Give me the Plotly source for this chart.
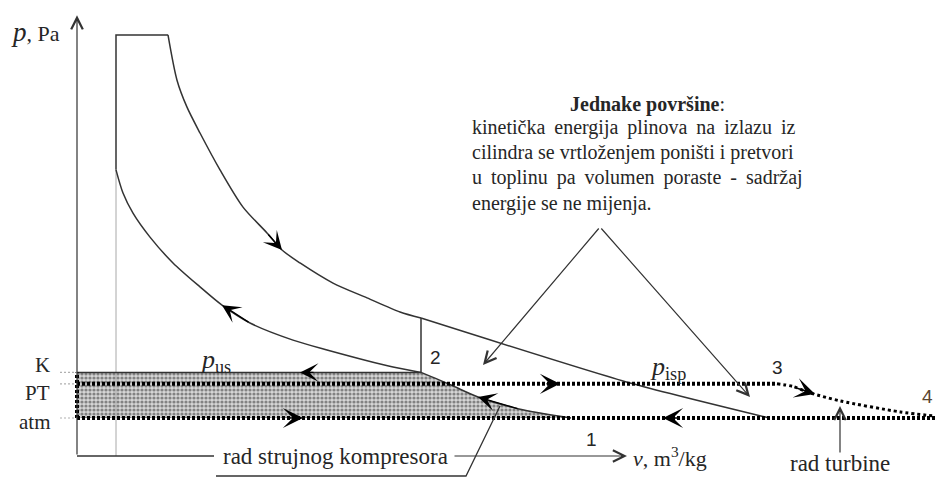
import plotly.graph_objects as go

# ---------------- data (diagram units: v arbitrary, p with atm = 1) ----------------
p_atm = 1.0          # atmospheric pressure
p_K = 2.2            # charging pressure (p_us, "K")
p_PT = 1.9           # pressure before turbine (p_isp, "PT")
p_max = 11.08        # combustion pressure
v_c = 0.975          # clearance volume
v_comb = 2.275       # end of constant-pressure combustion
v_2 = 8.6            # point 2
v_3 = 17.5           # point 3
v_end = 21.45        # right edge of the diagram

expansion_v = [2.275, 2.5, 2.75, 3.075, 3.575, 4.15, 4.75, 5.125, 5.575, 6.4, 7.25, 8.075, 8.6]
expansion_p = [11.08, 9.89, 9.18, 8.5, 7.53, 6.55, 5.87, 5.42, 5.08, 4.55, 4.16, 3.79, 3.63]

blowdown_v = [8.6, 13.825, 17.3]
blowdown_p = [3.63, 1.92, 1.0]

compression_v = [0.975, 1.15, 1.4, 1.825, 2.4, 3.075, 3.625, 4.325, 5.4, 6.25, 7.9, 8.6]
compression_p = [7.53, 6.92, 6.39, 5.76, 5.08, 4.45, 3.97, 3.5, 3.05, 2.79, 2.34, 2.2]

compressor_v = [8.6, 9.35, 10.025, 11.05, 12.35]      # line 2 - 1 (compressor work)
compressor_p = [2.2, 1.868, 1.553, 1.237, 1.0]

turbine_v = [17.5, 17.9, 18.33, 19.08, 20.58, 21.45]  # line 3 - 4 (turbine)
turbine_p = [1.9, 1.83, 1.66, 1.45, 1.16, 1.05]

# flow-direction arrowheads: head point and a point just behind it
flow_head_v = [5.125, 3.625, 5.575, 12.075, 5.65, 14.65, 10.025, 18.45]
flow_head_p = [5.42, 3.97, 2.2, 1.9, 1.0, 1.0, 1.553, 1.63]
flow_tail_v = [4.75, 4.325, 5.95, 11.7, 5.25, 15.05, 11.05, 17.95]
flow_tail_p = [5.87, 3.5, 2.2, 1.9, 1.0, 1.0, 1.237, 1.8]
flow_heavy = [False, False, False, True, True, True, False, True]

# pointer arrows (tail -> head)
ptr_tail_v = [0.0, 9.4, 13.075, 13.075, 19.075]
ptr_tail_p = [0.0, 0.0, 6.026, 6.026, 0.05]
ptr_head_v = [0.0, 13.75, 10.15, 16.825, 19.075]
ptr_head_p = [11.6, 0.0, 2.395, 1.553, 1.316]

xaxis_left_v = [0.0, 3.425]
leader_v = [3.475, 9.725, 10.575]
leader_p = [-0.526, -0.526, 1.316]
tick_v = [-0.425, 0.0]

# texts
para_lines = [
    "kinetička \u2009energija \u2009plinova \u2009na \u2009izlazu \u2009iz",
    "cilindra se vrtloženjem poništi i pretvori",
    "u \u2009toplinu \u2009pa \u2009volumen \u2009poraste \u2009- \u2009sadržaj",
    "energije se ne mijenja.",
]
para_p = [8.632, 7.974, 7.316, 6.658]
para_v = 9.825
title_v, title_p = 12.275, 9.263

SERIF = "Liberation Serif"
SANS = "Liberation Sans"
INK = "#262626"
LINE = "#333333"

fig = go.Figure()


def add_line(v, p, **kw):
    fig.add_trace(go.Scatter(x=v, y=p, mode="lines", hoverinfo="skip", showlegend=False, **kw))


# shaded area (compressor work)
fig.add_trace(go.Scatter(
    x=[0.0] + compressor_v + [0.0], y=[p_K] + compressor_p + [p_atm],
    mode="lines", fill="toself", line=dict(width=0), fillcolor="rgba(0,0,0,0)",
    fillpattern=dict(shape=".", fgcolor="#2e2e2e", bgcolor="#d6d6d6", size=4, solidity=0.5),
    hoverinfo="skip", showlegend=False))

solid = dict(color=LINE, width=1.5)
thin_gray = dict(color="#a8a8a8", width=1)
dotted = dict(color="black", width=4, dash="3px,2px")
gray_dotted = dict(color="#b0b0b0", width=1.2, dash="2px,2px")

# engine cycle
add_line([v_c, v_c], [0.0, compression_p[0]], line=thin_gray)
add_line([v_c, v_c, v_comb], [compression_p[0], p_max, p_max], line=solid)
add_line(expansion_v, expansion_p, line=dict(color=LINE, width=1.5, shape="spline", smoothing=0.8))
add_line(blowdown_v, blowdown_p, line=dict(color=LINE, width=1.5, shape="spline", smoothing=0.6))
add_line(compression_v, compression_p, line=dict(color=LINE, width=1.5, shape="spline", smoothing=0.8))
add_line([v_2, v_2], [expansion_p[-1], p_K], line=solid)
add_line([0.0, v_2], [p_K, p_K], line=solid)
add_line(compressor_v, compressor_p, line=dict(color=LINE, width=1.5, shape="spline", smoothing=0.8))

# gas exchange (dotted heavy lines)
add_line([0.0, 0.0], [p_atm, p_K], line=dotted)
add_line([0.0, v_3], [p_PT, p_PT], line=dotted)
add_line(turbine_v, turbine_p, line=dict(color="black", width=3, dash="3px,3px", shape="spline", smoothing=0.8))
add_line([0.0, v_end], [p_atm, p_atm], line=dotted)

# level ticks K / PT / atm
for lvl in (p_K, p_PT, p_atm):
    add_line(tick_v, [lvl, lvl], line=gray_dotted)

# axes and leader
add_line(xaxis_left_v, [0.0, 0.0], line=dict(color=LINE, width=1.3))
add_line(leader_v, leader_p, line=dict(color=LINE, width=1.3))

ann = []
# flow arrowheads
for hv, hp, tv, tp, heavy in zip(flow_head_v, flow_head_p, flow_tail_v, flow_tail_p, flow_heavy):
    ann.append(dict(x=hv, y=hp, ax=tv, ay=tp, xref="x", yref="y", axref="x", ayref="y",
                    text="", showarrow=True, arrowhead=3, arrowcolor="black",
                    arrowwidth=1.6 if heavy else 1.4,
                    arrowsize=2.1 if heavy else 2.2, standoff=0))
# pointer arrows
for tv, tp, hv, hp in zip(ptr_tail_v, ptr_tail_p, ptr_head_v, ptr_head_p):
    ann.append(dict(x=hv, y=hp, ax=tv, ay=tp, xref="x", yref="y", axref="x", ayref="y",
                    text="", showarrow=True, arrowhead=5, arrowcolor=LINE,
                    arrowwidth=1.2, arrowsize=1.9, standoff=0))


def label(v, p, text, size=20, family=SERIF, xanchor="center", color=INK):
    ann.append(dict(x=v, y=p, xref="x", yref="y", text=text, showarrow=False,
                    xanchor=xanchor, yanchor="middle",
                    font=dict(family=family, size=size, color=color)))


label(-0.375, 11.16, "<span style='font-size:27px'><i>p</i></span>, Pa", size=22, xanchor="right")
label(-0.625, 2.395, "K", size=21, xanchor="right")
label(-0.625, 1.658, "PT", size=21, xanchor="right")
label(-0.6, 0.895, "atm", size=21, xanchor="right")
label(3.45, 2.5, "<i>p</i><sub>us</sub>", size=26)
label(14.775, 2.316, "<i>p</i><sub>isp</sub>", size=26)
label(8.95, 2.605, "2", size=19, family=SANS)
label(17.5, 2.316, "3", size=19, family=SANS)
label(12.85, 0.447, "1", size=19, family=SANS)
label(21.08, 1.579, "4", size=19, family=SANS, xanchor="left", color="#5a4630")
label(6.45, 0.0, "rad strujnog kompresora", size=23)
label(13.85, -0.03, "<i>v</i>, m<sup>3</sup>/kg", size=22, xanchor="left")
label(19.075, -0.21, "rad turbine", size=23)
label(title_v, title_p, "<b>Jednake površine</b>:", size=20, xanchor="left")
for txt, pp in zip(para_lines, para_p):
    label(para_v, pp, txt, size=20, xanchor="left")

fig.update_layout(
    width=935, height=477,
    margin=dict(l=0, r=0, t=0, b=0),
    paper_bgcolor="white", plot_bgcolor="white",
    xaxis=dict(range=[-1.925, 21.45], visible=False, fixedrange=True),
    yaxis=dict(range=[-0.5526, 12.0], visible=False, fixedrange=True),
    annotations=ann,
    showlegend=False,
)

fig.write_html("out.html", config={"displayModeBar": False},
               post_script="document.body.style.margin='0px';document.body.style.overflow='hidden';")
